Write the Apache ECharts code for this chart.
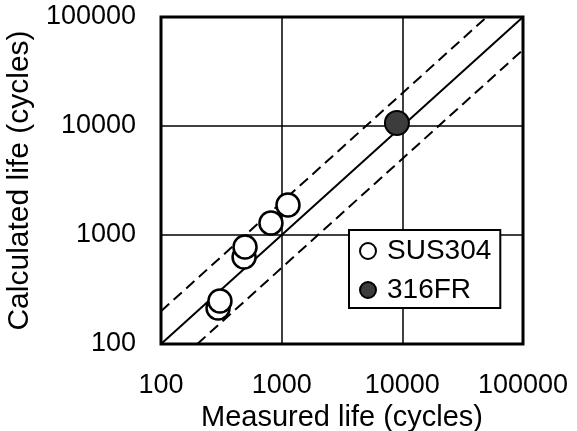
<!DOCTYPE html>
<html>
<head>
    <meta charset="UTF-8">
    <title></title>
    <script type="text/javascript" src="https://cdn.jsdelivr.net/npm/echarts@6.0.0/dist/echarts.min.js"></script>
    <style>
        html, body { margin: 0; padding: 0; background: #fff; }
    </style>
</head>
<body>
<div id="life" style="width: 577px;height:431px;"></div>
<script>
    // measured vs calculated life (cycles)
    var sus304Measured = [297, 308, 488, 497, 815, 1128];
    var sus304Calculated = [214, 248, 628, 776, 1288, 1884];
    var fr316Measured = [9020];
    var fr316Calculated = [10660];

    // 1:1 line and factor-of-2 band
    var equalX = [100, 100000];
    var equalY = [100, 100000];
    var upperX = [100, 50000];
    var upperY = [200, 100000];
    var lowerX = [200, 100000];
    var lowerY = [100, 50000];

    var xTicks = ['100', '1000', '10000', '100000'];
    var yTicks = ['100', '1000', '10000', '100000'];

    function pairs(xs, ys) {
        var out = [];
        for (var i = 0; i < xs.length; i++) {
            out.push([xs[i], ys[i]]);
        }
        return out;
    }

    function tickText(list) {
        return function (v) {
            var s = String(Math.round(v));
            return list.indexOf(s) >= 0 ? s : '';
        };
    }

    var font = 'Liberation Sans';
    var myChart = echarts.init(document.getElementById('life'));
    myChart.setOption({
        animation: false,
        backgroundColor: '#fff',
        grid: {
            left: 161,
            top: 17,
            right: 54,
            bottom: 87,
            outerBoundsMode: 'none',
            containLabel: false,
            show: true,
            borderColor: '#000',
            borderWidth: 3,
            backgroundColor: 'transparent'
        },
        legend: {
            data: ['SUS304', '316FR'],
            orient: 'vertical',
            left: 349,
            top: 230,
            backgroundColor: '#fff',
            borderColor: '#000',
            borderWidth: 2,
            borderRadius: 0,
            padding: [6, 9, 3, 10],
            itemGap: 9,
            itemWidth: 16,
            itemHeight: 16,
            icon: 'circle',
            textStyle: {
                fontFamily: font,
                fontSize: 28,
                color: '#000',
                lineHeight: 30,
                padding: [0, 0, 0, 6]
            }
        },
        xAxis: {
            type: 'log',
            logBase: 10,
            min: 100,
            max: 100000,
            name: 'Measured life (cycles)',
            nameLocation: 'middle',
            nameGap: 48,
            nameTextStyle: {fontFamily: font, fontSize: 29, color: '#000'},
            axisLine: {show: false},
            axisTick: {show: false},
            splitLine: {show: true, lineStyle: {color: '#000', width: 1.5}},
            axisLabel: {
                fontFamily: font,
                fontSize: 27,
                color: '#000',
                margin: 28,
                formatter: tickText(xTicks)
            }
        },
        yAxis: {
            type: 'log',
            logBase: 10,
            min: 100,
            max: 100000,
            name: 'Calculated life (cycles)',
            nameLocation: 'middle',
            nameRotate: 90,
            nameGap: 102,
            nameTextStyle: {fontFamily: font, fontSize: 30, color: '#000'},
            axisLine: {show: false},
            axisTick: {show: false},
            splitLine: {show: true, lineStyle: {color: '#000', width: 1.5}},
            axisLabel: {
                fontFamily: font,
                fontSize: 27,
                color: '#000',
                margin: 25,
                formatter: tickText(yTicks)
            }
        },
        series: [
            {
                name: '1:1',
                type: 'line',
                data: pairs(equalX, equalY),
                symbol: 'none',
                silent: true,
                z: 1,
                lineStyle: {color: '#000', width: 2}
            },
            {
                name: 'upper',
                type: 'line',
                data: pairs(upperX, upperY),
                symbol: 'none',
                silent: true,
                z: 1,
                lineStyle: {color: '#000', width: 2, type: [11, 6]}
            },
            {
                name: 'lower',
                type: 'line',
                data: pairs(lowerX, lowerY),
                symbol: 'none',
                silent: true,
                z: 1,
                lineStyle: {color: '#000', width: 2, type: [11, 6]}
            },
            {
                name: 'SUS304',
                type: 'scatter',
                symbol: 'circle',
                symbolSize: 23,
                z: 3,
                itemStyle: {color: '#fff', borderColor: '#000', borderWidth: 2.5, opacity: 1},
                data: pairs(sus304Measured, sus304Calculated)
            },
            {
                name: '316FR',
                type: 'scatter',
                symbol: 'circle',
                symbolSize: 24,
                z: 3,
                itemStyle: {color: '#3c3c3c', borderColor: '#000', borderWidth: 2, opacity: 1},
                data: pairs(fr316Measured, fr316Calculated)
            }
        ]
    });
</script>
</body>
</html>
